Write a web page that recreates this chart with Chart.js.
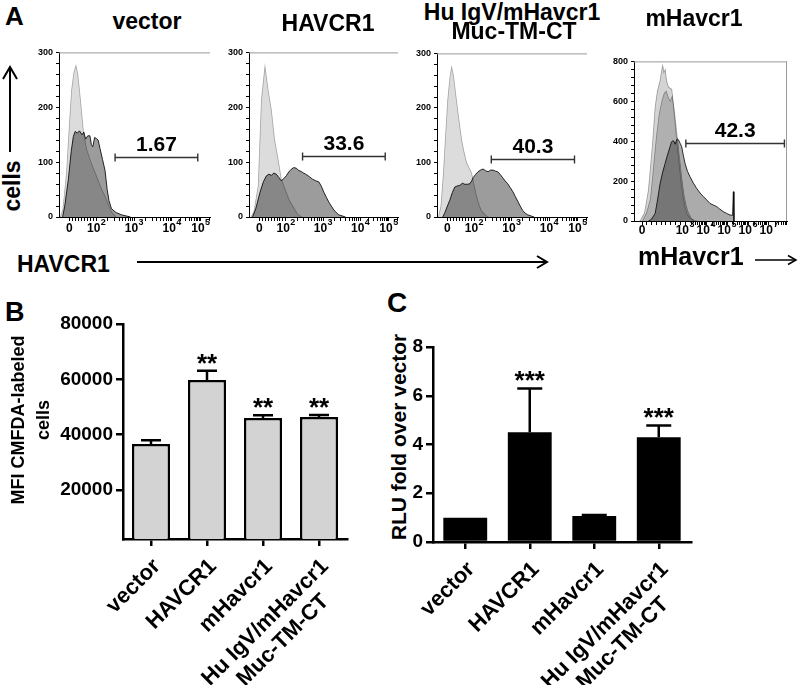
<!DOCTYPE html>
<html>
<head>
<meta charset="utf-8">
<title>HAVCR1 figure</title>
<script src="https://cdn.jsdelivr.net/npm/chart.js@4.4.1/dist/chart.umd.min.js"></script>
<style>
  body { margin: 0; background: #fff; }
  #page { position: relative; width: 800px; height: 685px; overflow: hidden; background: #fff;
          font-family: "Liberation Sans", Arial, sans-serif; }
  canvas { position: absolute; }
  .lbl { position: absolute; white-space: nowrap; font-weight: bold; line-height: 1; color: #000; z-index: 2; }
  .ctr { transform: translateX(-50%); }
  .rot { transform: translate(-50%, -50%) rotate(-90deg); text-align: center; }
  svg { position: absolute; left: 0; top: 0; z-index: 2; }
</style>
</head>
<body>
<div id="page">
  <canvas id="histVector"></canvas>
  <canvas id="histHavcr1"></canvas>
  <canvas id="histChimera"></canvas>
  <canvas id="histMouse"></canvas>
  <canvas id="mfiChart"></canvas>
  <canvas id="rluChart"></canvas>

  <!-- panel letters and titles -->
  <div class="lbl" style="left:5px;top:3px;font-size:26px">A</div>
  <div class="lbl ctr" style="left:147px;top:10px;font-size:23px">vector</div>
  <div class="lbl ctr" style="left:328px;top:12px;font-size:23px">HAVCR1</div>
  <div class="lbl ctr" style="left:512px;top:1px;font-size:23px">Hu IgV/mHavcr1</div>
  <div class="lbl ctr" style="left:514px;top:20px;font-size:23px">Muc-TM-CT</div>
  <div class="lbl ctr" style="left:694px;top:7px;font-size:23px">mHavcr1</div>
  <div class="lbl rot" style="left:12px;top:186px;font-size:23px">cells</div>
  <div class="lbl" style="left:17px;top:253px;font-size:23px">HAVCR1</div>
  <div class="lbl" style="left:638px;top:244px;font-size:25px">mHavcr1</div>

  <div class="lbl" style="left:5px;top:299px;font-size:27px">B</div>
  <div class="lbl rot" style="left:31px;top:420px;font-size:18px;line-height:25px">MFI CMFDA-labeled<br>cells</div>
  <div class="lbl" style="left:387px;top:289px;font-size:28px">C</div>
  <div class="lbl rot" style="left:398px;top:437px;font-size:21px">RLU fold over vector</div>

  <svg width="800" height="685">
    <g stroke="#000" fill="none" stroke-width="2">
      <line x1="10" y1="152" x2="10" y2="68"/>
      <polyline points="3,79 10,67 17,79"/>
      <line x1="137" y1="262" x2="546" y2="262"/>
      <polyline points="537,256 547,262 537,268"/>
      <line x1="755" y1="260" x2="795" y2="260" stroke-width="1.5"/>
      <polyline points="788,255.5 796,260 788,264.5" stroke-width="1.5"/>
    </g>
  </svg>
</div>

<script>
// ---- Panel A: flow histograms, [display channel, cell count] ----
const vectorIso = [[0.90,0],[0.97,15],[1.07,81],[1.15,170],[1.21,231],[1.27,262],[1.33,276],[1.38,262],[1.43,231],[1.49,190],[1.54,155],[1.63,123],[1.75,100],[1.90,75],[2.05,50],[2.14,38],[2.25,20],[2.32,9],[2.45,0]];
const vectorCells = [[0.96,0],[1.02,20],[1.12,69],[1.20,120],[1.26,147],[1.31,156],[1.37,153],[1.43,157],[1.50,150],[1.55,155],[1.60,142],[1.66,148],[1.72,148],[1.76,132],[1.80,128],[1.85,145],[1.90,143],[1.95,140],[2.00,125],[2.07,105],[2.14,85],[2.20,50],[2.25,30],[2.32,15],[2.45,8],[2.60,4],[2.85,0]];

const havcrIso = [[0.92,0],[1.00,10],[1.12,57],[1.21,213],[1.31,275],[1.40,231],[1.49,195],[1.58,141],[1.68,105],[1.77,69],[1.91,45],[2.00,30],[2.09,20],[2.23,5],[2.35,0]];
const havcrCells = [[0.96,0],[1.05,15],[1.17,45],[1.27,65],[1.35,75],[1.42,78],[1.49,76],[1.56,80],[1.63,78],[1.70,72],[1.77,66],[1.84,70],[1.91,75],[1.98,82],[2.05,87],[2.12,90],[2.19,89],[2.26,85],[2.33,83],[2.40,80],[2.46,78],[2.55,74],[2.65,69],[2.74,66],[2.83,64],[2.90,56],[2.97,45],[3.04,36],[3.11,27],[3.18,20],[3.25,13],[3.32,8],[3.39,4],[3.58,0]];

const chimeraIso = [[0.90,0],[0.97,20],[1.04,80],[1.10,150],[1.16,214],[1.22,255],[1.27,275],[1.32,260],[1.36,238],[1.45,190],[1.55,141],[1.62,118],[1.69,99],[1.76,90],[1.83,80],[1.90,58],[1.97,37],[2.04,22],[2.10,12],[2.24,2],[2.30,0]];
const chimeraCells = [[1.02,0],[1.08,8],[1.15,20],[1.22,31],[1.29,45],[1.36,55],[1.43,57],[1.50,58],[1.57,62],[1.64,60],[1.71,60],[1.78,61],[1.83,66],[1.87,72],[1.94,78],[2.01,83],[2.08,86],[2.15,88],[2.22,85],[2.29,83],[2.36,86],[2.43,86],[2.50,84],[2.56,83],[2.63,78],[2.70,72],[2.77,66],[2.84,61],[2.91,54],[2.98,47],[3.05,38],[3.12,29],[3.19,20],[3.26,12],[3.33,7],[3.40,4],[3.58,0]];

const mouseIsoA = [[0.78,0],[1.00,40],[1.20,155],[1.40,380],[1.54,572],[1.65,650],[1.79,705],[1.86,750],[1.92,780],[1.98,745],[2.05,760],[2.09,720],[2.15,690],[2.21,672],[2.30,665],[2.38,660],[2.46,580],[2.55,488],[2.63,400],[2.71,322],[2.80,240],[2.88,172],[2.96,115],[3.05,72],[3.15,35],[3.30,15],[3.50,0]];
const mouseIsoB = [[0.90,0],[1.10,40],[1.30,110],[1.45,260],[1.60,420],[1.75,540],[1.90,610],[2.00,640],[2.10,650],[2.20,620],[2.30,600],[2.40,625],[2.50,560],[2.60,470],[2.70,380],[2.80,290],[2.90,200],[3.00,130],[3.10,80],[3.20,45],[3.35,15],[3.50,3],[3.65,0]];
const mouseCells = [[1.20,0],[1.35,8],[1.54,38],[1.65,100],[1.79,188],[1.92,245],[2.04,288],[2.16,330],[2.29,372],[2.36,395],[2.43,403],[2.50,398],[2.55,385],[2.60,400],[2.66,412],[2.71,408],[2.80,390],[2.88,372],[2.96,330],[3.05,288],[3.17,250],[3.30,222],[3.47,190],[3.64,163],[3.81,140],[3.98,122],[4.15,105],[4.31,88],[4.48,80],[4.65,72],[4.80,60],[4.98,47],[5.15,38],[5.32,30],[5.45,28],[5.49,147],[5.52,0]];

// gates: percent positive, channel range, height in cells
const gateLabels = ['1.67', '33.6', '40.3', '42.3'];
const gateFrom = [2.42, 2.37, 2.38, 3.09];
const gateTo = [4.72, 4.70, 4.71, 8.07];
const gateAt = [110, 111, 106, 393];

const humanTicks = [1.15, 1.9, 2.95, 4.0, 4.8];
const humanTickLabels = ['0', '10^2', '10^3', '10^4', '10^5'];
const mouseTicks = [0.88, 3.05, 4.11, 5.17, 6.23, 7.29];
const mouseTickLabels = ['0', '10^3', '10^4', '10^5', '10^6', '10^7'];

// ---- Panels B and C ----
const groups = ['vector', 'HAVCR1', 'mHavcr1', ['Hu IgV/mHavcr1', 'Muc-TM-CT']];
const mfiMean = [36600, 59800, 46000, 46400];
const mfiSem = [1400, 3300, 1000, 700];
const mfiStars = ['', '**', '**', '**'];
const mfiTicks = [20000, 40000, 60000, 80000];
const rluMean = [1.0, 4.5, 1.07, 4.3];
const rluSem = [0, 1.8, 0.04, 0.48];
const rluStars = ['', '***', '', '***'];
const rluTicks = [0, 2, 4, 6, 8];

const FONT = '"Liberation Sans", Arial, sans-serif';
Chart.defaults.font.family = FONT;

// size and place a canvas so the chart area lands on the given box
function mount(id, area, m) {
  const c = document.getElementById(id);
  c.width = area.r - area.l + m.left + m.right;
  c.height = area.b - area.t + m.top + m.bottom;
  c.style.left = (area.l - m.left) + 'px';
  c.style.top = (area.t - m.top) + 'px';
  return c;
}

// overlapping histogram fills darken like the flow software does
const multiply = {
  id: 'multiply',
  beforeDatasetsDraw(chart) { chart.ctx.save(); chart.ctx.globalCompositeOperation = 'multiply'; },
  afterDatasetsDraw(chart) { chart.ctx.restore(); }
};

// grey frame line on top (and right) plus the gate marker
const frame = {
  id: 'frame',
  afterDraw(chart, args, opts) {
    const { ctx, chartArea: a, scales: { x, y } } = chart;
    ctx.save();
    ctx.strokeStyle = '#9a9a9a';
    ctx.lineWidth = 1;
    ctx.beginPath();
    ctx.moveTo(a.left, a.top + 0.5);
    ctx.lineTo(a.right, a.top + 0.5);
    if (opts.right) {
      ctx.moveTo(a.right - 0.5, a.top);
      ctx.lineTo(a.right - 0.5, a.bottom);
    }
    ctx.stroke();

    const x0 = x.getPixelForValue(opts.from), x1 = x.getPixelForValue(opts.to);
    const gy = Math.round(y.getPixelForValue(opts.at)) + 0.5;
    ctx.strokeStyle = '#333';
    ctx.lineWidth = 1.4;
    ctx.beginPath();
    ctx.moveTo(x0, gy); ctx.lineTo(x1, gy);
    ctx.moveTo(x0, gy - 4); ctx.lineTo(x0, gy + 4);
    ctx.moveTo(x1, gy - 4); ctx.lineTo(x1, gy + 4);
    ctx.stroke();
    ctx.fillStyle = '#000';
    ctx.font = 'bold 21px ' + FONT;
    ctx.textAlign = 'center';
    ctx.textBaseline = 'alphabetic';
    ctx.fillText(opts.label, (x0 + x1) / 2, gy - 7);
    ctx.restore();
  }
};

// "10" with a raised exponent under each major tick
const expLabels = {
  id: 'expLabels',
  afterDraw(chart, args, opts) {
    const { ctx } = chart;
    const x = chart.scales.x;
    const big = 'bold 12px ' + FONT, small = 'bold 9px ' + FONT;
    ctx.save();
    ctx.fillStyle = '#000';
    ctx.textBaseline = 'alphabetic';
    ctx.textAlign = 'left';
    opts.ticks.forEach((v, i) => {
      const [mant, exp] = opts.labels[i].split('^');
      ctx.font = big;
      const wm = ctx.measureText(mant).width;
      ctx.font = small;
      const we = exp ? ctx.measureText(exp).width + 0.5 : 0;
      const left = x.getPixelForValue(v) - (wm + we) / 2;
      ctx.font = big;
      ctx.fillText(mant, left, x.top + opts.base);
      if (exp) {
        ctx.font = small;
        ctx.fillText(exp, left + wm + 0.5, x.top + opts.base - 7);
      }
    });
    ctx.restore();
  }
};

function minorTicks(major, max) {
  const out = [];
  const first = major[0], second = major[1];
  for (let k = 1; k < 9; k++) out.push(first + (second - first) * k / 9);
  for (let i = 1; i < major.length; i++) {
    const a = major[i];
    const step = (major[i + 1] !== undefined ? major[i + 1] : a + (a - major[i - 1])) - a;
    for (let k = 2; k <= 9; k++) {
      const v = a + step * Math.log10(k);
      if (v < max) out.push(v);
    }
  }
  return out;
}

function histChart(id, area, axis, series, gate) {
  const m = { left: 34, top: 8, right: 10, bottom: 24 };
  const canvas = mount(id, area, m);
  const xAll = axis.xTicks.concat(minorTicks(axis.xTicks, axis.xMax)).sort((p, q) => p - q);
  const yAll = [];
  for (let v = 0; v <= axis.yMax; v += axis.yMinor) yAll.push(v);
  return new Chart(canvas, {
    type: 'line',
    data: {
      datasets: series.map(s => ({
        data: s.points.map(([x, y]) => ({ x, y })),
        fill: 'origin',
        backgroundColor: s.fill,
        borderColor: s.line,
        borderWidth: s.width,
        pointRadius: 0,
        tension: 0
      }))
    },
    options: {
      responsive: false,
      animation: false,
      events: [],
      layout: { padding: { left: 0, top: m.top, right: m.right, bottom: 0 } },
      plugins: {
        legend: { display: false },
        tooltip: { enabled: false },
        frame: { right: axis.rightFrame, from: gate.from, to: gate.to, at: gate.at, label: gate.label },
        expLabels: { ticks: axis.xTicks, labels: axis.xLabels, base: axis.labelBase }
      },
      scales: {
        x: {
          type: 'linear',
          min: axis.xMin,
          max: axis.xMax,
          afterFit: s => { s.height = m.bottom; },
          afterBuildTicks: s => { s.ticks = xAll.map(v => ({ value: v })); },
          ticks: { display: false, autoSkip: false },
          grid: { drawOnChartArea: false, tickLength: 4, color: '#000', lineWidth: 1 },
          border: { color: '#000', width: 1 }
        },
        y: {
          min: 0,
          max: axis.yMax,
          afterFit: s => { s.width = m.left; },
          afterBuildTicks: s => { s.ticks = yAll.map(v => ({ value: v })); },
          ticks: {
            autoSkip: false, padding: 3, color: '#000',
            font: { size: 9, weight: 'bold' },
            callback: v => (v % axis.yStep === 0 ? String(v) : '')
          },
          grid: { drawOnChartArea: false, tickLength: 3, color: '#000', lineWidth: 1 },
          border: { color: '#000', width: 1 }
        }
      }
    },
    plugins: [multiply, frame, expLabels]
  });
}

const isoStyle = { fill: '#dcdcdc', line: '#b0b0b0', width: 0.8 };
const cellStyle = { fill: '#9c9c9c', line: '#2a2a2a', width: 1 };
const humanAxis = { xMin: 0.86, xMax: 5.06, xTicks: humanTicks, xLabels: humanTickLabels, labelBase: 15,
                    yMax: 300, yStep: 100, yMinor: 20, rightFrame: false };
const mouseAxis = { xMin: 0.47, xMax: 8.2, xTicks: mouseTicks, xLabels: mouseTickLabels, labelBase: 13,
                    yMax: 800, yStep: 200, yMinor: 40, rightFrame: true };

histChart('histVector', { l: 59, t: 52, r: 210, b: 217 }, humanAxis,
  [Object.assign({ points: vectorCells }, cellStyle), Object.assign({ points: vectorIso }, isoStyle)],
  { from: gateFrom[0], to: gateTo[0], at: gateAt[0], label: gateLabels[0] });
histChart('histHavcr1', { l: 249, t: 52, r: 398, b: 217 }, humanAxis,
  [Object.assign({ points: havcrCells }, cellStyle), Object.assign({ points: havcrIso }, isoStyle)],
  { from: gateFrom[1], to: gateTo[1], at: gateAt[1], label: gateLabels[1] });
histChart('histChimera', { l: 437, t: 53, r: 587, b: 217 }, humanAxis,
  [Object.assign({ points: chimeraCells }, cellStyle), Object.assign({ points: chimeraIso }, isoStyle)],
  { from: gateFrom[2], to: gateTo[2], at: gateAt[2], label: gateLabels[2] });
histChart('histMouse', { l: 634, t: 61, r: 787, b: 221 }, mouseAxis,
  [{ points: mouseCells, fill: '#ababab', line: '#333', width: 1 },
   { points: mouseIsoA, fill: '#d4d4d4', line: '#a8a8a8', width: 0.8 },
   { points: mouseIsoB, fill: '#d4d4d4', line: '#a8a8a8', width: 0.8 }],
  { from: gateFrom[3], to: gateTo[3], at: gateAt[3], label: gateLabels[3] });

// ---- bar charts ----
const errorBars = {
  id: 'errorBars',
  afterDatasetsDraw(chart, args, opts) {
    const { ctx, scales: { y } } = chart;
    const meta = chart.getDatasetMeta(0);
    const values = chart.data.datasets[0].data;
    ctx.save();
    ctx.strokeStyle = '#000';
    ctx.lineWidth = 2.5;
    meta.data.forEach((bar, i) => {
      const top = y.getPixelForValue(values[i] + opts.errors[i]);
      if (opts.errors[i] > 0) {
        ctx.beginPath();
        ctx.moveTo(bar.x, y.getPixelForValue(values[i]));
        ctx.lineTo(bar.x, top);
        ctx.moveTo(bar.x - opts.cap / 2, top);
        ctx.lineTo(bar.x + opts.cap / 2, top);
        ctx.stroke();
      }
      if (opts.stars[i]) {
        ctx.fillStyle = '#000';
        ctx.font = 'bold 26px ' + FONT;
        ctx.textAlign = 'center';
        ctx.textBaseline = 'alphabetic';
        ctx.fillText(opts.stars[i], bar.x, top + 1);
      }
    });
    ctx.restore();
  }
};

// slanted, centred multi-line category labels
const slantLabels = {
  id: 'slantLabels',
  afterDraw(chart, args, opts) {
    const { ctx } = chart;
    const x = chart.scales.x;
    ctx.save();
    ctx.font = 'bold 22px ' + FONT;
    ctx.fillStyle = '#000';
    chart.data.labels.forEach((lab, i) => {
      const lines = Array.isArray(lab) ? lab : [lab];
      const w = Math.max(...lines.map(l => ctx.measureText(l).width));
      ctx.save();
      ctx.translate(x.getPixelForTick(i) + opts.dx, x.top + opts.dy);
      ctx.rotate(-Math.PI / 4);
      ctx.textAlign = 'center';
      ctx.textBaseline = 'middle';
      lines.forEach((l, j) => ctx.fillText(l, -w / 2, j * opts.lineHeight));
      ctx.restore();
    });
    ctx.restore();
  }
};

function barChart(id, area, m, cfg) {
  const canvas = mount(id, area, m);
  return new Chart(canvas, {
    type: 'bar',
    data: {
      labels: groups,
      datasets: [{
        data: cfg.values,
        backgroundColor: cfg.fill,
        borderColor: '#000',
        borderWidth: cfg.border,
        barPercentage: 0.68,
        categoryPercentage: 1
      }]
    },
    options: {
      responsive: false,
      animation: false,
      events: [],
      layout: { padding: { left: 0, top: m.top, right: m.right, bottom: 0 } },
      plugins: {
        legend: { display: false },
        tooltip: { enabled: false },
        errorBars: { errors: cfg.errors, stars: cfg.stars, cap: cfg.cap },
        slantLabels: { dx: 6, dy: 24, lineHeight: 25 }
      },
      scales: {
        x: {
          afterFit: s => { s.height = m.bottom; },
          ticks: { display: false },
          grid: { offset: false, drawOnChartArea: false, tickLength: 7, lineWidth: 2.5, color: '#000' },
          border: { color: '#000', width: 2.5 }
        },
        y: {
          min: cfg.yMin,
          max: cfg.yMax,
          afterFit: s => { s.width = m.left; },
          afterBuildTicks: s => { s.ticks = cfg.yTicks.map(v => ({ value: v })); },
          ticks: { color: '#000', padding: 3, font: { size: 19, weight: 'bold' }, callback: v => String(v) },
          grid: { drawOnChartArea: false, tickLength: 7, lineWidth: 2.5, color: '#000' },
          border: { color: '#000', width: 2.5 }
        }
      }
    },
    plugins: [errorBars, slantLabels]
  });
}

barChart('mfiChart', { l: 123, t: 324, r: 347, b: 539 }, { left: 68, top: 24, right: 8, bottom: 146 },
  { values: mfiMean, errors: mfiSem, stars: mfiStars, fill: '#d3d3d3', border: 2.5, cap: 20,
    yMin: 2300, yMax: 80000, yTicks: mfiTicks });
barChart('rluChart', { l: 433, t: 347, r: 691, b: 542 }, { left: 23, top: 27, right: 9, bottom: 143 },
  { values: rluMean, errors: rluSem, stars: rluStars, fill: '#000', border: 0, cap: 25,
    yMin: 0, yMax: 8, yTicks: rluTicks });
</script>
</body>
</html>
